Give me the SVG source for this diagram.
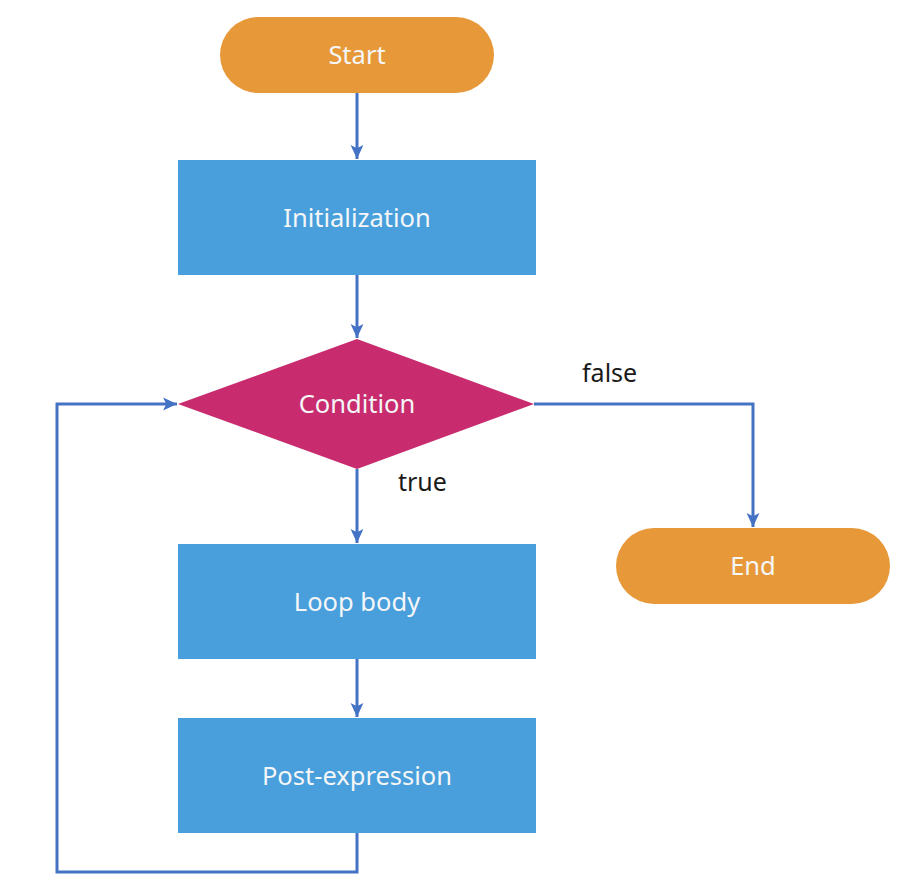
<svg xmlns="http://www.w3.org/2000/svg" width="906" height="890" viewBox="0 0 906 890">
<style>
.term{fill:#E7993A}
.proc{fill:#489FDB}
.dec{fill:#C82C6E}
.nt{font-family:"Noto Sans","Liberation Sans",sans-serif;font-size:25.5px;fill:#F4F6F8;text-anchor:middle}
.lbl{font-family:"Noto Sans","Liberation Sans",sans-serif;font-size:25px;fill:#1a1a1a}
.conn{fill:none;stroke:#4472C4;stroke-width:3}
</style>
<defs>
<marker id="ah" markerUnits="userSpaceOnUse" markerWidth="15" markerHeight="15" viewBox="0 0 14 14" refX="13" refY="7" orient="auto">
<path d="M0,1 L13,7 L0,13 L3,7 z" fill="#4472C4"/>
</marker>
</defs>
<rect width="906" height="890" fill="#FFFFFF"/>
<g id="connectors">
<path class="conn" d="M357,93 V159" marker-end="url(#ah)"/>
<path class="conn" d="M357,275 V338" marker-end="url(#ah)"/>
<path class="conn" d="M357,469 V543" marker-end="url(#ah)"/>
<path class="conn" d="M357,659 V717" marker-end="url(#ah)"/>
<path class="conn" d="M534,404 H753 V527" marker-end="url(#ah)"/>
<path class="conn" d="M357,833 V872 H57 V404 H177" marker-end="url(#ah)"/>
<text class="lbl" x="582" y="382">false</text>
<text class="lbl" x="398" y="491">true</text>
</g>
<g id="start">
<rect class="term" x="220" y="17" width="274" height="76" rx="38" ry="38"/>
<text class="nt" x="357" y="64">Start</text>
</g>
<g id="init">
<rect class="proc" x="178" y="160" width="358" height="115"/>
<text class="nt" x="357" y="227">Initialization</text>
</g>
<g id="condition">
<polygon class="dec" points="357,339 534,404 357,469 178,404"/>
<text class="nt" x="357" y="413">Condition</text>
</g>
<g id="body">
<rect class="proc" x="178" y="544" width="358" height="115"/>
<text class="nt" x="357" y="611">Loop body</text>
</g>
<g id="post">
<rect class="proc" x="178" y="718" width="358" height="115"/>
<text class="nt" x="357" y="785">Post-expression</text>
</g>
<g id="end">
<rect class="term" x="616" y="528" width="274" height="76" rx="38" ry="38"/>
<text class="nt" x="753" y="575">End</text>
</g>
</svg>
